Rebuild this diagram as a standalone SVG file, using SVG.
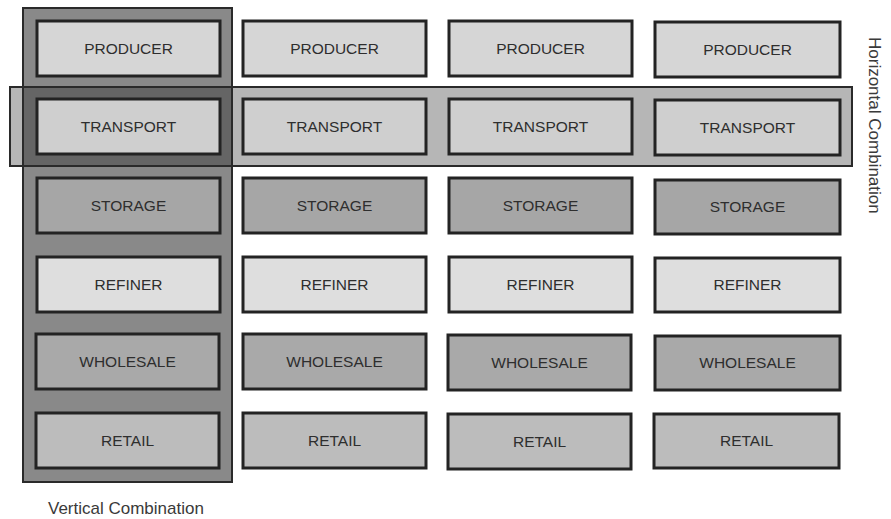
<svg xmlns="http://www.w3.org/2000/svg" width="891" height="519" viewBox="0 0 891 519">
<style>
.box{stroke:#232323;stroke-width:3}
.lbl{font-family:"Liberation Sans",Arial,sans-serif;font-size:15.5px;fill:#2e2e2e;text-anchor:middle}
.cap{font-family:"Liberation Sans",Arial,sans-serif;font-size:17px;fill:#3a3a3a}
.prod{fill:#d6d6d6}
.trans{fill:#cfcfcf}
.stor{fill:#a6a6a6}
.ref{fill:#dedede}
.whol{fill:#a9a9a9}
.ret{fill:#bcbcbc}
</style>
<rect width="891" height="519" fill="#ffffff"/>
<g id="horizontal-combination">
<rect x="10" y="87" width="842" height="79" fill="#b6b6b6" stroke="#2a2a2a" stroke-width="2"/>
<text class="cap" transform="translate(869,37) rotate(90)">Horizontal Combination</text>
</g>
<g id="vertical-combination">
<rect x="23" y="8" width="209" height="474" fill="#898989" stroke="#2a2a2a" stroke-width="2"/>
<rect x="23" y="87" width="209" height="79" fill="#656565" stroke="#2a2a2a" stroke-width="2"/>
<text class="cap" x="48" y="514">Vertical Combination</text>
</g>
<g id="col1">
<g id="producer-1"><rect class="box prod" x="37" y="21" width="183" height="55"/><text class="lbl" x="128.5" y="54">PRODUCER</text></g>
<g id="transport-1"><rect class="box trans" x="37" y="99" width="183" height="55"/><text class="lbl" x="128.5" y="132">TRANSPORT</text></g>
<g id="storage-1"><rect class="box stor" x="37" y="178" width="183" height="55"/><text class="lbl" x="128.5" y="211">STORAGE</text></g>
<g id="refiner-1"><rect class="box ref" x="37" y="257" width="183" height="55"/><text class="lbl" x="128.5" y="290">REFINER</text></g>
<g id="wholesale-1"><rect class="box whol" x="36" y="334" width="183" height="55"/><text class="lbl" x="127.5" y="367">WHOLESALE</text></g>
<g id="retail-1"><rect class="box ret" x="36" y="413" width="183" height="55"/><text class="lbl" x="127.5" y="446">RETAIL</text></g>
</g>
<g id="col2">
<g id="producer-2"><rect class="box prod" x="243" y="21" width="183" height="55"/><text class="lbl" x="334.5" y="54">PRODUCER</text></g>
<g id="transport-2"><rect class="box trans" x="243" y="99" width="183" height="55"/><text class="lbl" x="334.5" y="132">TRANSPORT</text></g>
<g id="storage-2"><rect class="box stor" x="243" y="178" width="183" height="55"/><text class="lbl" x="334.5" y="211">STORAGE</text></g>
<g id="refiner-2"><rect class="box ref" x="243" y="257" width="183" height="55"/><text class="lbl" x="334.5" y="290">REFINER</text></g>
<g id="wholesale-2"><rect class="box whol" x="243" y="334" width="183" height="55"/><text class="lbl" x="334.5" y="367">WHOLESALE</text></g>
<g id="retail-2"><rect class="box ret" x="243" y="413" width="183" height="55"/><text class="lbl" x="334.5" y="446">RETAIL</text></g>
</g>
<g id="col3">
<g id="producer-3"><rect class="box prod" x="449" y="21" width="183" height="55"/><text class="lbl" x="540.5" y="54">PRODUCER</text></g>
<g id="transport-3"><rect class="box trans" x="449" y="99" width="183" height="55"/><text class="lbl" x="540.5" y="132">TRANSPORT</text></g>
<g id="storage-3"><rect class="box stor" x="449" y="178" width="183" height="55"/><text class="lbl" x="540.5" y="211">STORAGE</text></g>
<g id="refiner-3"><rect class="box ref" x="449" y="257" width="183" height="55"/><text class="lbl" x="540.5" y="290">REFINER</text></g>
<g id="wholesale-3"><rect class="box whol" x="448" y="335" width="183" height="55"/><text class="lbl" x="539.5" y="368">WHOLESALE</text></g>
<g id="retail-3"><rect class="box ret" x="448" y="414" width="183" height="55"/><text class="lbl" x="539.5" y="447">RETAIL</text></g>
</g>
<g id="col4">
<g id="producer-4"><rect class="box prod" x="655" y="22" width="185" height="55"/><text class="lbl" x="747.5" y="55">PRODUCER</text></g>
<g id="transport-4"><rect class="box trans" x="655" y="100" width="185" height="55"/><text class="lbl" x="747.5" y="133">TRANSPORT</text></g>
<g id="storage-4"><rect class="box stor" x="655" y="180" width="185" height="54"/><text class="lbl" x="747.5" y="212">STORAGE</text></g>
<g id="refiner-4"><rect class="box ref" x="655" y="258" width="185" height="54"/><text class="lbl" x="747.5" y="290">REFINER</text></g>
<g id="wholesale-4"><rect class="box whol" x="655" y="336" width="185" height="54"/><text class="lbl" x="747.5" y="368">WHOLESALE</text></g>
<g id="retail-4"><rect class="box ret" x="654" y="414" width="185" height="54"/><text class="lbl" x="746.5" y="446">RETAIL</text></g>
</g>
<g id="connectors"/>
</svg>
